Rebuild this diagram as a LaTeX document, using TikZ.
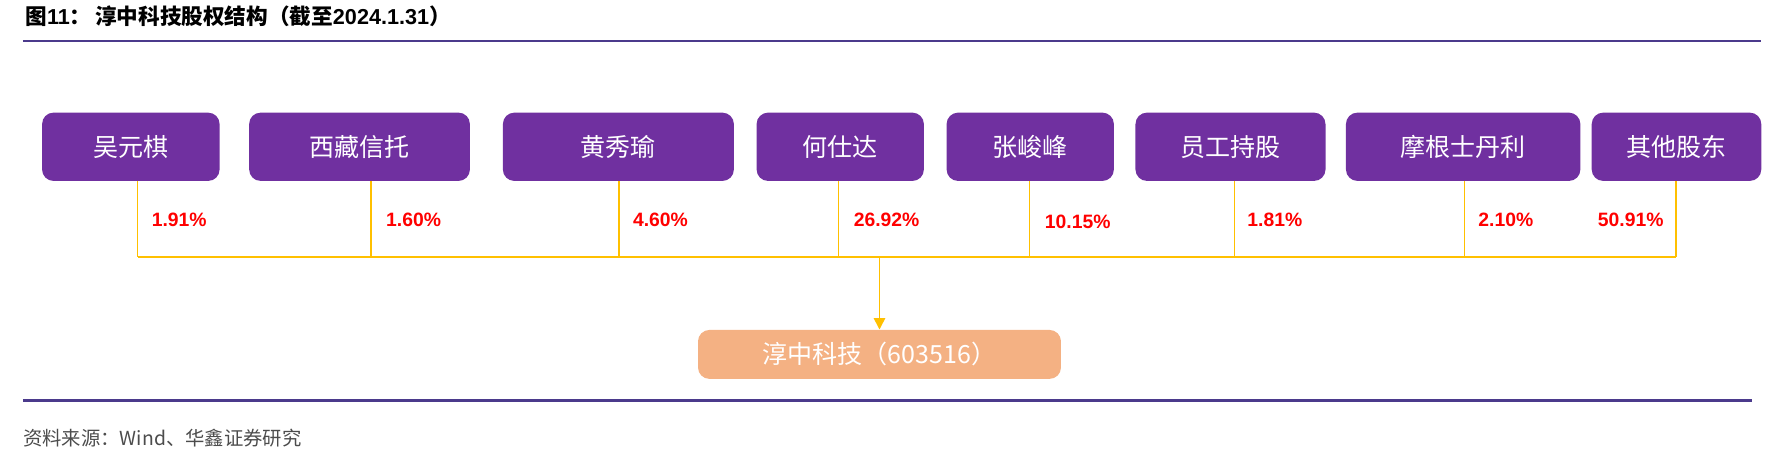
\documentclass[tikz,border=0pt]{standalone}
\usepackage{fontspec}
\usetikzlibrary{arrows.meta}
\setmainfont{Liberation Sans}
\newfontfamily\cjk{Noto Sans CJK SC}
\definecolor{pbox}{HTML}{7030A0}
\definecolor{ylw}{HTML}{FFC000}
\definecolor{org}{HTML}{F4B183}
\definecolor{rule}{HTML}{4B3A8C}
\begin{document}
\begin{tikzpicture}[x=0.5pt,y=-0.5pt,
  holder/.style={fill=pbox,draw=none,rounded corners=5pt,text=white,font=\cjk\fontsize{11}{12}\selectfont,inner sep=0pt},
  pct/.style={anchor=west,text=red,font=\bfseries\fontsize{8.5}{9}\selectfont,inner sep=0pt},
  conn/.style={draw=ylw,line width=0.7pt}]
\useasboundingbox (0,0) rectangle (1568,397);
\node[anchor=west,font=\bfseries\fontsize{9.5}{11}\selectfont,inner sep=0pt] (title) at (22,14) {{\cjk\bfseries 图}11{\cjk\bfseries ：}\,{\cjk\bfseries 淳中科技股权结构（截至}2024.1.31{\cjk ）}};
\draw[rule,line width=1.2pt] (20,36) -- (1548,36);
\draw[rule,line width=1.2pt] (20,352) -- (1540,352);
\node[anchor=west,font=\cjk\fontsize{8.5}{10}\selectfont,text=black!70,inner sep=0pt] (src) at (20,385) {资料来源：Wind、华鑫证券研究};
\foreach \n/\l/\r/\t in {a/37/193/吴元棋, b/219/413/西藏信托, c/442/645/黄秀瑜, d/665/812/何仕达, e/832/979/张峻峰, f/998/1165/员工持股, g/1183/1389/摩根士丹利, h/1399/1548/其他股东}{
  \node[holder,minimum width={(\r-\l)*0.5pt},minimum height=30pt] (\n) at ({(\l+\r)/2},129) {\t};
}
\node[fill=org,rounded corners=5pt,text=white,font=\cjk\fontsize{11}{12}\selectfont,minimum width=159.5pt,minimum height=21.5pt,inner sep=0pt] (co) at (773,311.5) {淳中科技（603516）};
\foreach \n/\x in {a/121,b/326,c/544,d/737,e/905,f/1085,g/1287,h/1473}{
  \coordinate (j\n) at (\x,226);
  \draw[conn] (\x,159) -- (j\n);
}
\draw[conn] (ja) -- (jh);
\coordinate (jm) at (773,226);
\draw[conn,-{Triangle[width=5pt,length=5pt]}] (jm) -- (co.north);
\node[pct] (pa) at (133,193) {1.91\%};
\node[pct] (pb) at (339,193) {1.60\%};
\node[pct] (pc) at (556,193) {4.60\%};
\node[pct] (pd) at (750,193) {26.92\%};
\node[pct] (pe) at (918,195) {10.15\%};
\node[pct] (pf) at (1096,193) {1.81\%};
\node[pct] (pg) at (1299,193) {2.10\%};
\node[pct] (ph) at (1404,193) {50.91\%};
\end{tikzpicture}
\end{document}
